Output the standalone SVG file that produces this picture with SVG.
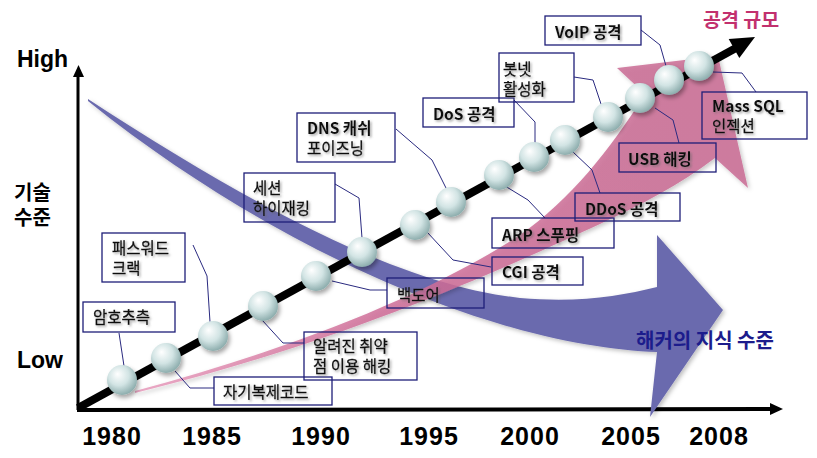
<svg xmlns="http://www.w3.org/2000/svg" width="817" height="458" viewBox="0 0 817 458">
<style>
.box{fill:none;stroke:#1e1e78;stroke-width:1.3}
.lbl{font-family:"Noto Sans CJK KR","Liberation Sans",sans-serif;font-size:15.5px;fill:#111;stroke:#111;stroke-width:0.3}
.b{font-weight:bold;stroke-width:0}
.leader{fill:none;stroke:#2a2a80;stroke-width:1}
.axl{font-family:"Liberation Sans","Noto Sans CJK KR",sans-serif;font-weight:bold;fill:#000}
.yr{font-family:"Liberation Sans",sans-serif;font-weight:bold;font-size:25px;letter-spacing:1px;fill:#000;text-anchor:middle}
.sph{fill:url(#sph);filter:url(#ssh)}
</style>
<defs>
<radialGradient id="sph" cx="0.42" cy="0.38" r="0.62" fx="0.35" fy="0.3">
<stop offset="0" stop-color="#ffffff"/>
<stop offset="0.55" stop-color="#d2e4e4"/>
<stop offset="1" stop-color="#8eaeae"/>
</radialGradient>
<linearGradient id="pg" x1="135" y1="392" x2="700" y2="120" gradientUnits="userSpaceOnUse">
<stop offset="0" stop-color="#e79abb"/>
<stop offset="0.4" stop-color="#cf6e98"/>
<stop offset="1" stop-color="#c96b94"/>
</linearGradient>
<filter id="ssh" x="-40%" y="-40%" width="190%" height="190%"><feDropShadow dx="2" dy="3" stdDeviation="2" flood-color="#000" flood-opacity="0.35"/></filter>
<filter id="tsh" x="-10%" y="-30%" width="130%" height="170%"><feDropShadow dx="1.5" dy="1.5" stdDeviation="0.8" flood-color="#666" flood-opacity="0.6"/></filter>
<filter id="ash" x="-10%" y="-10%" width="120%" height="120%"><feDropShadow dx="2" dy="2" stdDeviation="2" flood-color="#000" flood-opacity="0.25"/></filter>
</defs>
<rect width="817" height="458" fill="#fff"/>

<g id="axes">
<line x1="78" y1="410" x2="78" y2="74" stroke="#000" stroke-width="3"/>
<polygon points="78.5,65 73,77 84,77" fill="#000"/>
<line x1="77" y1="410" x2="772" y2="409" stroke="#000" stroke-width="4"/>
<polygon points="783,409 770,403 770,415" fill="#000"/>
<text class="axl" x="17" y="67" font-size="23">High</text>
<text class="axl" x="17" y="368" font-size="23">Low</text>
<text class="axl" x="14" y="200" font-size="20" font-family="Noto Sans CJK KR,sans-serif">기술</text>
<text class="axl" x="14" y="225" font-size="20" font-family="Noto Sans CJK KR,sans-serif">수준</text>
<text class="yr" x="112" y="445">1980</text>
<text class="yr" x="212" y="445">1985</text>
<text class="yr" x="321" y="445">1990</text>
<text class="yr" x="429" y="445">1995</text>
<text class="yr" x="530" y="445">2000</text>
<text class="yr" x="631" y="445">2005</text>
<text class="yr" x="719" y="445">2008</text>
</g>

<g id="blue-arrow" filter="url(#ash)">
<path d="M88,99 C250,205 400,285 520,298 C580,303 620,296 657,287 L657,235 L723,310 L650,417 L657,352 C600,350 520,335 430,300 C330,262 205,195 88,101 Z" fill="#6b6bae"/>
</g>
<g id="pink-arrow" filter="url(#ash)">
<path d="M135,391 C280,352 420,300 520,235 C570,200 610,150 645,94 L617,68 L718,56 L748,188 L715,158 C680,185 640,205 600,224 C500,270 350,340 135,393 Z" fill="url(#pg)" fill-opacity="0.85"/>
</g>

<g id="connectors">
<polyline class="leader" points="119,333 124,366"/>
<polyline class="leader" points="193,245 207,276 210,322"/>
<polyline class="leader" points="175,371 190,388 214,388"/>
<polyline class="leader" points="262,320 283,343 304,343"/>
<polyline class="leader" points="332,281 370,290 387,290"/>
<polyline class="leader" points="427,232 453,260 491,267"/>
<polyline class="leader" points="335,184 359,198 362,238"/>
<polyline class="leader" points="396,129 432,160 446,188"/>
<polyline class="leader" points="514,100 535,122 535,143"/>
<polyline class="leader" points="505,186 528,200 545,218"/>
<polyline class="leader" points="573,152 592,170 600,193"/>
<polyline class="leader" points="574,77 593,80 601,104"/>
<polyline class="leader" points="655,108 673,120 679,143"/>
<polyline class="leader" points="641,30 660,45 666,66"/>
<polyline class="leader" points="713,72 742,73 756,92"/>
</g>

<g id="timeline">
<line x1="78" y1="408" x2="736" y2="48" stroke="#000" stroke-width="8"/>
<polygon points="755,37 728.7,38.9 739.3,58.1" fill="#000"/>
<circle class="sph" cx="122" cy="380" r="15"/>
<circle class="sph" cx="166" cy="358" r="15"/>
<circle class="sph" cx="213" cy="336" r="15"/>
<circle class="sph" cx="263" cy="306" r="15"/>
<circle class="sph" cx="316" cy="276" r="15"/>
<circle class="sph" cx="362" cy="252" r="15"/>
<circle class="sph" cx="415" cy="225" r="15"/>
<circle class="sph" cx="451" cy="202" r="15"/>
<circle class="sph" cx="499" cy="175" r="15"/>
<circle class="sph" cx="534" cy="157" r="15"/>
<circle class="sph" cx="565" cy="140" r="15"/>
<circle class="sph" cx="608" cy="117" r="15"/>
<circle class="sph" cx="640" cy="98" r="15"/>
<circle class="sph" cx="669" cy="80" r="15"/>
<circle class="sph" cx="699" cy="66" r="15"/>
</g>

<g id="n-amho"><rect class="box" x="83" y="302" width="92" height="30"/><text class="lbl" x="93" y="323" filter="url(#tsh)">암호추측</text></g>
<g id="n-password"><rect class="box" x="102" y="233" width="83" height="49"/><text class="lbl" filter="url(#tsh)"><tspan x="112" y="254">패스워드</tspan><tspan x="112" y="274">크랙</tspan></text></g>
<g id="n-selfrep"><rect class="box" x="214" y="377" width="118" height="28"/><text class="lbl" x="223" y="398" filter="url(#tsh)">자기복제코드</text></g>
<g id="n-known"><rect class="box" x="304" y="332" width="113" height="48"/><text class="lbl" filter="url(#tsh)"><tspan x="313" y="352">알려진 취약</tspan><tspan x="313" y="372">점 이용 해킹</tspan></text></g>
<g id="n-backdoor"><rect class="box" x="387" y="278" width="97" height="30"/><text class="lbl" x="397" y="301" filter="url(#tsh)">백도어</text></g>
<g id="n-session"><rect class="box" x="244" y="173" width="91" height="49"/><text class="lbl" filter="url(#tsh)"><tspan x="253" y="194">세션</tspan><tspan x="253" y="214">하이재킹</tspan></text></g>
<g id="n-dns"><rect class="box" x="297" y="113" width="98" height="49"/><text class="lbl" filter="url(#tsh)"><tspan class="b" x="307" y="134">DNS 캐쉬</tspan><tspan x="307" y="154">포이즈닝</tspan></text></g>
<g id="n-cgi"><rect class="box" x="492" y="257" width="91" height="28"/><text class="lbl b" x="502" y="278" filter="url(#tsh)">CGI 공격</text></g>
<g id="n-arp"><rect class="box" x="492" y="218" width="122" height="30"/><text class="lbl b" x="502" y="241" filter="url(#tsh)">ARP 스푸핑</text></g>
<g id="n-dos"><rect class="box" x="423" y="98" width="91" height="29"/><text class="lbl b" x="433" y="120" filter="url(#tsh)">DoS 공격</text></g>
<g id="n-botnet"><rect class="box" x="499" y="53" width="75" height="49"/><text class="lbl" filter="url(#tsh)"><tspan x="503" y="75">봇넷</tspan><tspan x="503" y="95">활성화</tspan></text></g>
<g id="n-ddos"><rect class="box" x="575" y="193" width="105" height="28"/><text class="lbl b" x="585" y="215" filter="url(#tsh)">DDoS 공격</text></g>
<g id="n-usb"><rect class="box" x="619" y="143" width="97" height="29"/><text class="lbl b" x="628" y="165" filter="url(#tsh)">USB 해킹</text></g>
<g id="n-voip"><rect class="box" x="545" y="16" width="96" height="29"/><text class="lbl b" x="555" y="38" filter="url(#tsh)">VoIP 공격</text></g>
<g id="n-masssql"><rect class="box" x="702" y="92" width="105" height="47"/><text class="lbl" filter="url(#tsh)"><tspan class="b" x="712" y="112">Mass SQL</tspan><tspan x="712" y="132">인젝션</tspan></text></g>

<g id="titles">
<text x="703" y="27" font-family="Noto Sans CJK KR,sans-serif" font-weight="bold" font-size="19.5" fill="#c2306e">공격 규모</text>
<text x="636" y="348" font-family="Noto Sans CJK KR,sans-serif" font-weight="bold" font-size="20" fill="#1c1c8c">해커의 지식 수준</text>
</g>
</svg>
